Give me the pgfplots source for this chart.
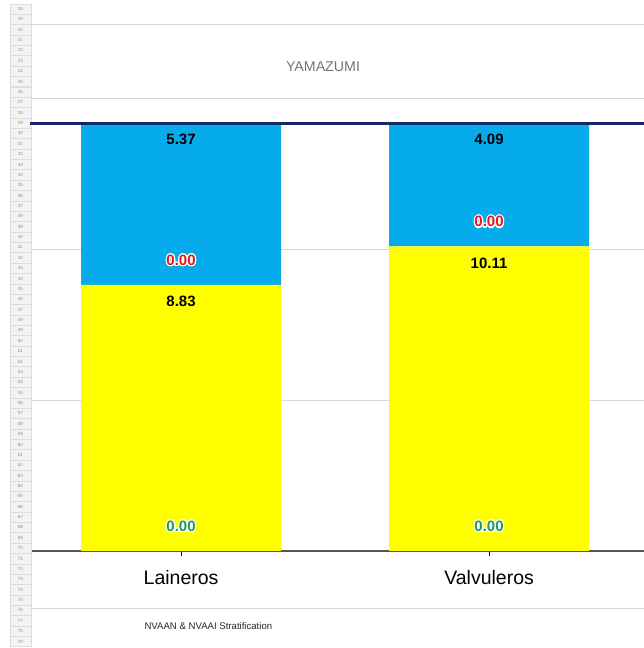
\documentclass[border=0pt]{standalone}
\usepackage{pgfplots}
\usepackage{pgfplotstable}
\pgfplotsset{compat=1.18}
\usepackage{fontspec}
\setmainfont{Liberation Sans}
\usepackage{contour}
\contourlength{1.2pt}
\contournumber{16}

\definecolor{barblue}{HTML}{05ABEA}
\definecolor{baryellow}{HTML}{FFFF00}
\definecolor{takt}{HTML}{15266B}
\definecolor{lblgreen}{HTML}{1E9A5E}
\definecolor{lblred}{HTML}{E2191C}
\definecolor{gridgray}{HTML}{D9D9D9}
\definecolor{axisgray}{HTML}{555555}
\definecolor{titlegray}{HTML}{757575}
\definecolor{rowfill}{HTML}{F3F3F3}
\definecolor{rowline}{HTML}{DCDCDC}
\definecolor{rowtext}{HTML}{8C8C8C}

% stacked segments per station, bottom to top
\pgfplotstableread{
x nvaan va nvaai nva
0 0 8.83 0 5.37
1 0 10.11 0 4.09
}\yamazumi
\pgfplotstableread{
x y
-0.49 14.2
1.503 14.2
}\taktline

\pgfplotsset{
  station frame/.style={
    at={(32pt,97pt)}, anchor=south west,
    scale only axis, width=612pt, height=452pt,
    xmin=-0.484, xmax=1.503, ymin=0, ymax=15,
  },
  seglabel/.style={draw=none, mark=none, point meta=explicit,
    nodes near coords={\pgfmathprintnumber{\pgfplotspointmeta}},
    every node near coord/.append style={font=\fontsize{15}{18}\selectfont\bfseries, anchor=center, text=black, yshift=-16.5pt}},
  zerolabel/.style={draw=none, mark=none, point meta=explicit,
    nodes near coords={\contour{white}{\pgfmathprintnumber{\pgfplotspointmeta}}},
    every node near coord/.append style={font=\fontsize{15}{18}\selectfont\bfseries, anchor=center, text=#1, yshift=24pt}},
}

\begin{document}
\begin{tikzpicture}
\path[use as bounding box] (0pt,0pt) rectangle (644pt,648pt);

% spreadsheet row headers
\foreach \r in {18,...,79}{
  \pgfmathsetmacro{\yc}{648-(123+(\r-29)*10.37)}
  \draw[rowline, line width=0.4pt, fill=rowfill] (10pt,\yc pt-5.18pt) rectangle (31pt,\yc pt+5.18pt);
  \node[text=rowtext, font=\fontsize{4.5}{5}\selectfont, inner sep=0pt] at (20.5pt,\yc pt) {\r};
}

% frame lines of the chart block
\draw[gridgray, line width=1pt] (30pt,623pt) -- (644pt,623pt);
\draw[gridgray, line width=1pt] (30pt,39pt) -- (644pt,39pt);

\node[text=titlegray, font=\fontsize{14.2}{16}\selectfont] at (323pt,581pt) {YAMAZUMI};
\node[anchor=west, text=black!85, font=\fontsize{9.6}{11}\selectfont] at (141pt,22pt) {NVAAN \& NVAAI Stratification};

\begin{axis}[
  station frame,
  ybar stacked, bar width=200pt,
  axis x line*=bottom, axis y line*=left,
  x axis line style={draw=axisgray, line width=2pt, -},
  y axis line style={draw=none},
  ytick={5,10,15}, ytick style={draw=none},
  yticklabels={,,},
  ymajorgrids, grid style={gridgray, line width=1pt},
  xtick={0,1}, xticklabels={Laineros,Valvuleros},
  xticklabel style={font=\fontsize{19.5}{22}\selectfont, text=black, yshift=-11pt},
  xtick style={draw=black, line width=0.8pt},
  tick align=outside, major tick length=5pt,
  clip=false,
]
\addplot[draw=none, fill=none] table[x=x, y=nvaan]{\yamazumi};
\addplot[draw=none, fill=baryellow] table[x=x, y=va]{\yamazumi};
\addplot[draw=none, fill=none] table[x=x, y=nvaai]{\yamazumi};
\addplot[draw=none, fill=barblue] table[x=x, y=nva]{\yamazumi};
\end{axis}

% takt line and segment values drawn over the bars
\begin{axis}[
  station frame,
  hide axis, clip=false,
  /pgf/number format/.cd, fixed, fixed zerofill, precision=2, assume math mode=true
]
\addplot[takt, line width=3pt, mark=none] table[x=x, y=y]{\taktline};
\addplot[zerolabel=lblgreen] table[x=x, y expr=\thisrow{nvaan}, meta=nvaan]{\yamazumi};
\addplot[seglabel] table[x=x, y expr=\thisrow{nvaan}+\thisrow{va}, meta=va]{\yamazumi};
\addplot[zerolabel=lblred] table[x=x, y expr=\thisrow{nvaan}+\thisrow{va}+\thisrow{nvaai}, meta=nvaai]{\yamazumi};
\addplot[seglabel] table[x=x, y expr=\thisrow{nvaan}+\thisrow{va}+\thisrow{nvaai}+\thisrow{nva}, meta=nva]{\yamazumi};
\end{axis}
\end{tikzpicture}
\end{document}
